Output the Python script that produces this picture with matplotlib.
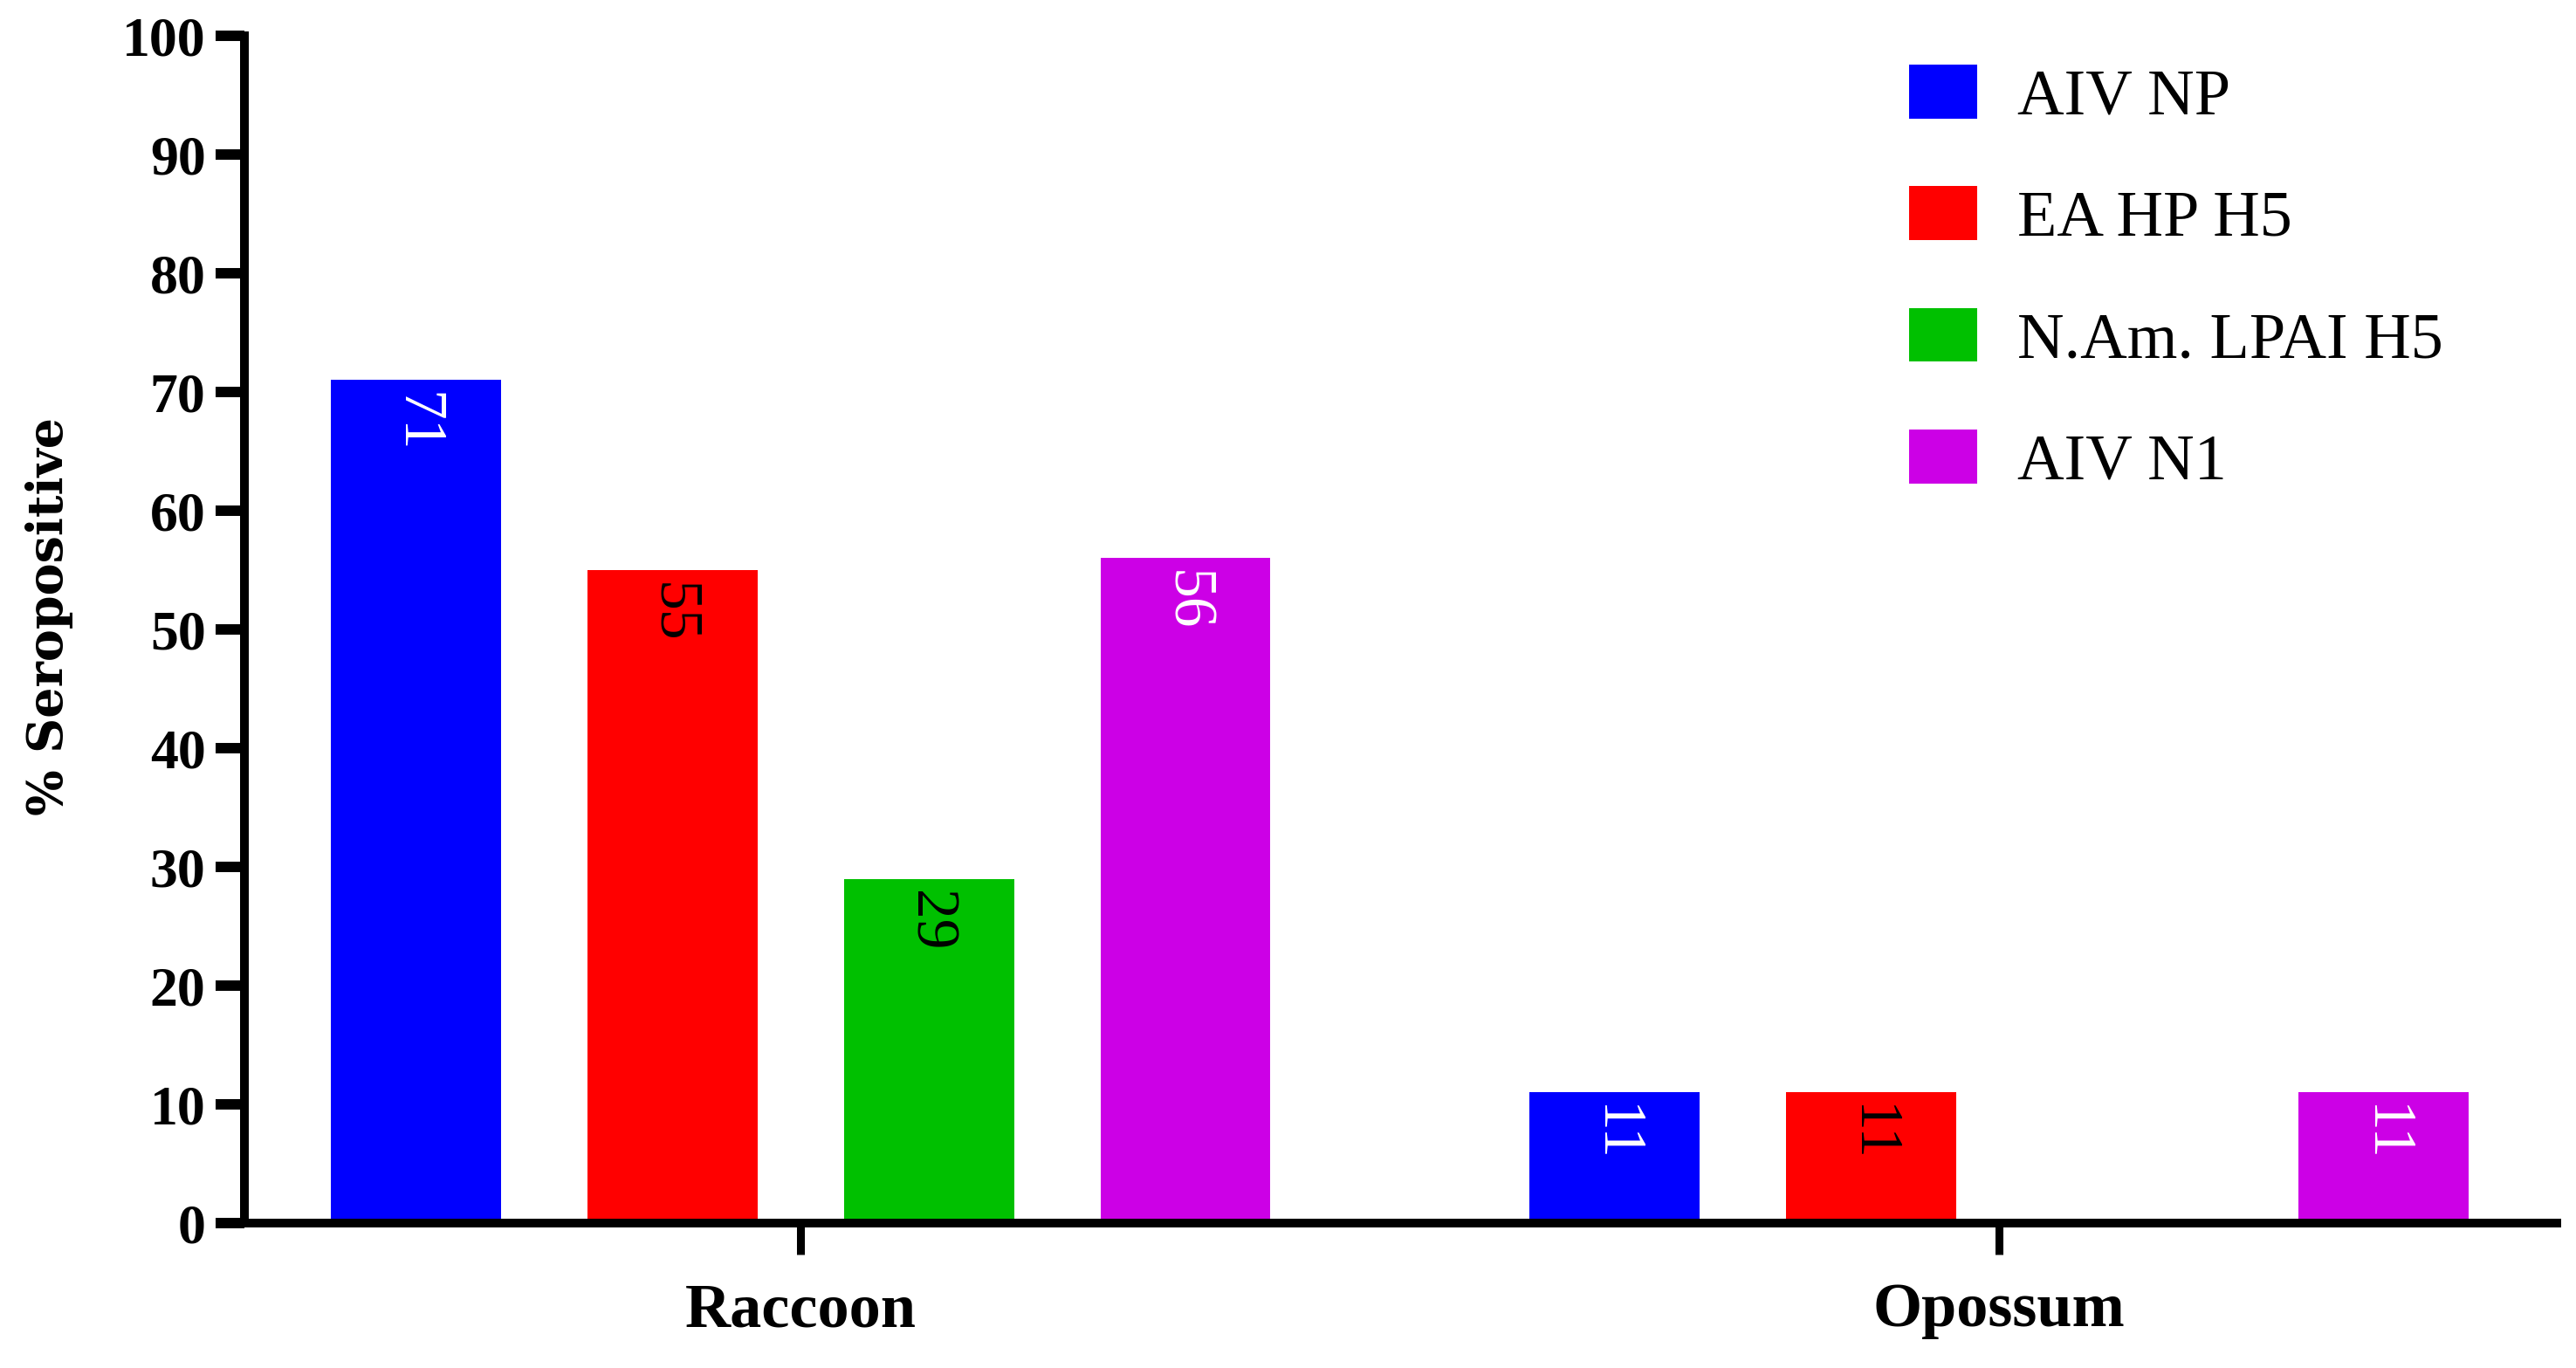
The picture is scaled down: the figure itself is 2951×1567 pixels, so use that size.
import matplotlib
matplotlib.use("Agg")
import matplotlib.pyplot as plt
import numpy as np

# categories and series
species = ["Raccoon", "Opossum"]
series = ["AIV NP", "EA HP H5", "N.Am. LPAI H5", "AIV N1"]
values = {
    "AIV NP": [71, 11],
    "EA HP H5": [55, 11],
    "N.Am. LPAI H5": [29, 0],
    "AIV N1": [56, 11],
}
colors = ["#0000FF", "#FF0000", "#00C000", "#CC00E6"]
label_colors = ["white", "black", "black", "white"]
yticks = [0, 10, 20, 30, 40, 50, 60, 70, 80, 90, 100]

W, H = 2951, 1567
fig = plt.figure(figsize=(W / 100, H / 100), dpi=100)
ax = fig.add_axes([280 / W, 1 - 1401 / H, (2929 - 280) / W, 1360 / H])

step = 0.2141
width = 0.142
x = np.arange(len(species))
offsets = (np.arange(len(series)) - 1.5) * step

for i, name in enumerate(series):
    bars = ax.bar(x + offsets[i], values[name], width, color=colors[i], label=name)
    for rect, v in zip(bars, values[name]):
        if v == 0:
            continue
        ax.annotate(str(v), xy=(rect.get_x() + rect.get_width() / 2, v),
                    xytext=(0, -10), textcoords="offset points",
                    rotation=270, ha="center", va="top",
                    fontsize=50, family="Liberation Serif",
                    color=label_colors[i])

ax.set_xlim(-0.464, 1.4654)
ax.set_ylim(0, 100)
ax.set_yticks(yticks)
ax.set_xticks(x)
ax.set_xticklabels(species)

for s in ["top", "right"]:
    ax.spines[s].set_visible(False)
for s in ["left", "bottom"]:
    ax.spines[s].set_linewidth(7.2)
    ax.spines[s].set_capstyle("projecting")

ax.tick_params(axis="y", direction="out", length=24, width=8.6, pad=8)
ax.tick_params(axis="x", direction="out", length=26, width=6.5, pad=23)
for lab in ax.get_yticklabels():
    lab.set_fontfamily("Liberation Serif")
    lab.set_fontweight("bold")
    lab.set_fontsize(46)
for lab in ax.get_xticklabels():
    lab.set_fontfamily("Liberation Serif")
    lab.set_fontweight("bold")
    lab.set_fontsize(52)

fig.text(57 / W, 1 - 706 / H, "% Seropositive", rotation=90,
         ha="center", va="center", fontsize=40, fontweight="bold",
         family="DejaVu Serif")

ax.legend(loc="upper left", bbox_to_anchor=(2187 / W, 1 - 74 / H),
          bbox_transform=fig.transFigure, frameon=False,
          prop={"family": "Liberation Serif", "size": 53.5},
          handlelength=1.05, handleheight=0.9, handletextpad=0.62,
          labelspacing=0.9, borderpad=0, borderaxespad=0)

fig.savefig("out.png", dpi=100)
